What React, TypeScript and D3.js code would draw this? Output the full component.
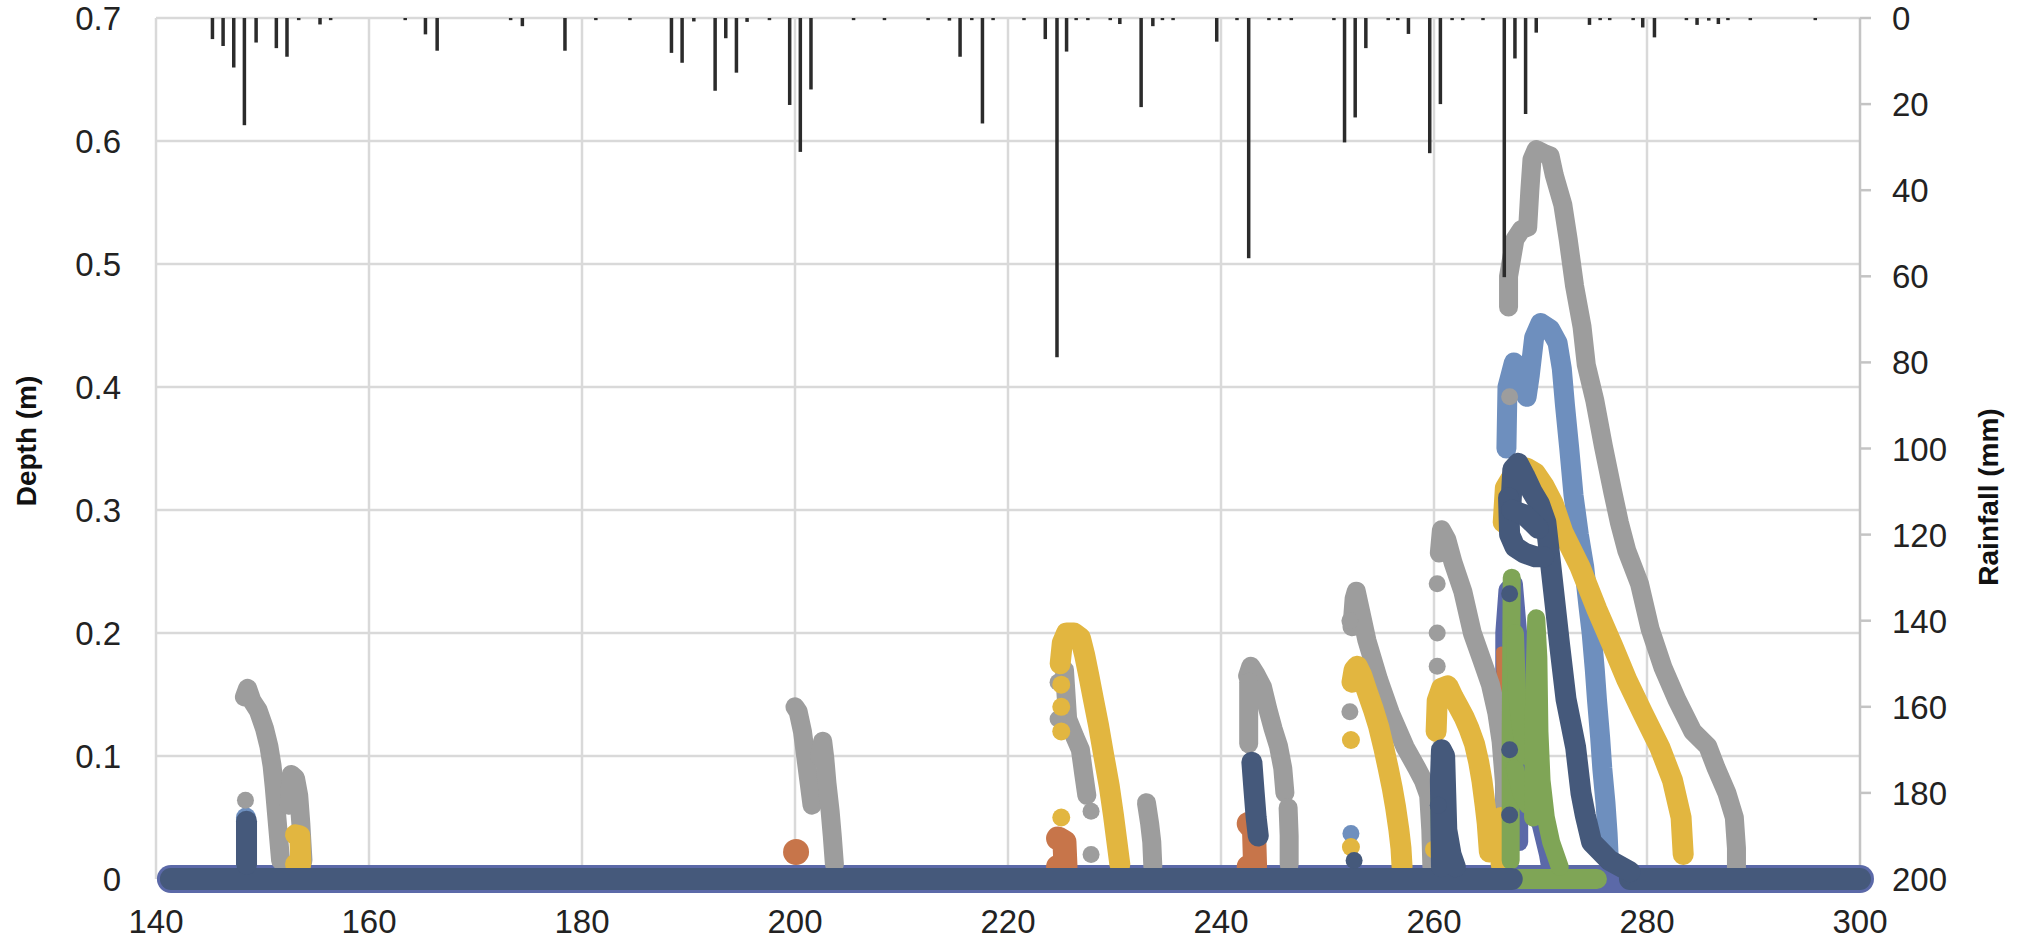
import React from 'react';
import * as d3 from 'd3';

type Pt = [number, number];

// rainfall (mm) per day, hanging from the top axis
const rainDays = [145.3, 146.3, 147.3, 148.3, 149.4, 151.3, 152.3, 153.4, 155.4, 156.4, 163.4, 165.3, 166.4, 173.3, 174.4, 178.4, 181.3, 184.5, 188.4, 189.4, 190.5, 192.5, 193.5, 194.5, 195.5, 197.6, 199.5, 200.5, 201.5, 205.5, 208.4, 212.5, 214.5, 215.5, 216.6, 217.6, 218.6, 221.5, 223.5, 224.6, 225.5, 226.4, 227.5, 229.6, 230.5, 232.5, 233.6, 234.5, 235.5, 239.6, 241.5, 242.6, 244.5, 245.5, 246.6, 250.6, 251.6, 252.6, 253.6, 255.7, 256.6, 257.6, 259.6, 260.6, 261.7, 262.7, 264.6, 266.6, 267.6, 268.6, 269.6, 274.6, 275.6, 276.5, 278.7, 279.6, 280.7, 283.7, 284.7, 285.8, 286.7, 287.6, 289.7, 295.8];
const rainMm = [4.9, 6.5, 11.5, 24.9, 5.7, 7.0, 9.0, 0.5, 1.5, 0.5, 0.5, 3.8, 7.6, 0.5, 1.9, 7.6, 0.5, 0.5, 8.1, 10.4, 0.8, 16.9, 4.7, 12.7, 0.9, 0.5, 20.2, 31.1, 16.6, 0.5, 0.5, 0.5, 0.6, 9.0, 0.5, 24.5, 0.5, 0.5, 4.9, 78.8, 7.8, 0.5, 0.5, 0.5, 1.4, 20.7, 1.9, 0.5, 0.5, 5.5, 0.5, 55.8, 0.5, 0.5, 0.5, 0.5, 28.9, 23.1, 7.0, 0.5, 0.5, 3.7, 31.4, 20.0, 0.5, 0.5, 0.5, 60.2, 9.4, 22.3, 3.4, 1.6, 0.5, 0.5, 0.5, 2.2, 4.5, 0.5, 1.6, 0.6, 1.4, 0.5, 0.5, 0.5];

const xTicks = [140, 160, 180, 200, 220, 240, 260, 280, 300];
const depthTicks = [0, 0.1, 0.2, 0.3, 0.4, 0.5, 0.6, 0.7];
const rainTicks = [0, 20, 40, 60, 80, 100, 120, 140, 160, 180, 200];

// depth series (day, m)
const purpleBase: Pt[] = [[141.4, 0], [300, 0]];
const purpleEvents: Pt[][] = [
  [[266.6, 0.04], [266.6, 0.2], [266.9, 0.235], [267.5, 0.24], [267.9, 0.2], [268.0, 0.1], [268.0, 0.03]],
  [[267.3, 0.03], [268.0, 0.055], [269.0, 0.058], [270.0, 0.045], [270.7, 0.02], [271.0, 0.005]],
];

const orangeBlobs: Pt[][] = [
  [[224.7, 0.033], [225.3, 0.03], [225.4, 0.01], [224.7, 0.01]],
  [[242.6, 0.045], [243.1, 0.04], [243.2, 0.01], [242.6, 0.01]],
];
const orangeStreak: Pt[] = [[266.3, 0.185], [266.4, 0.12], [266.5, 0.06], [266.6, 0.01]];
const orangeDots: Pt[] = [[200.1, 0.022]];

const lightBlueEvents: Pt[][] = [
  [[148.45, 0.05], [148.45, 0.012]],
  [[266.8, 0.35], [266.9, 0.4], [267.5, 0.42], [268.2, 0.415], [268.7, 0.392], [269.0, 0.41], [269.4, 0.44], [270.0, 0.452], [270.9, 0.447], [271.6, 0.436], [272.0, 0.415], [272.3, 0.385], [272.7, 0.35], [273.1, 0.312], [273.6, 0.28], [274.1, 0.254], [274.5, 0.222], [274.8, 0.2], [275.1, 0.17], [275.3, 0.146], [275.6, 0.115], [275.8, 0.09], [276.1, 0.062], [276.3, 0.037], [276.4, 0.018]],
];
const lightBlueDots: Pt[] = [[252.2, 0.037]];

const grayEvents: Pt[][] = [
  [[148.3, 0.148], [148.6, 0.155], [149.0, 0.145], [149.6, 0.137], [150.2, 0.122], [150.6, 0.108], [150.9, 0.092], [151.1, 0.075], [151.3, 0.055], [151.5, 0.035], [151.7, 0.015]],
  [[152.5, 0.06], [152.7, 0.085], [153.1, 0.082], [153.4, 0.068], [153.6, 0.045], [153.8, 0.015]],
  [[200.0, 0.14], [200.3, 0.136], [200.7, 0.12], [201.0, 0.1], [201.3, 0.08], [201.6, 0.06]],
  [[202.3, 0.1], [202.6, 0.112], [202.8, 0.098], [203.0, 0.078], [203.3, 0.055], [203.5, 0.035], [203.7, 0.012]],
  [[225.3, 0.17], [225.6, 0.13], [226.3, 0.115], [226.8, 0.105], [227.1, 0.086], [227.4, 0.068]],
  [[233.0, 0.062], [233.3, 0.045], [233.5, 0.03], [233.6, 0.01]],
  [[242.5, 0.165], [242.8, 0.173], [243.3, 0.166], [243.9, 0.156], [244.4, 0.138], [244.9, 0.122], [245.4, 0.108], [245.8, 0.09], [246.0, 0.07]],
  [[242.6, 0.16], [242.6, 0.11]],
  [[246.3, 0.058], [246.4, 0.035], [246.4, 0.012]],
  [[252.3, 0.205], [252.5, 0.228], [252.7, 0.234], [253.1, 0.218], [253.7, 0.194], [254.8, 0.162], [255.9, 0.135], [257.3, 0.107], [258.4, 0.09], [259.0, 0.08], [259.5, 0.068], [259.7, 0.04], [259.8, 0.01]],
  [[260.5, 0.265], [260.7, 0.284], [261.2, 0.276], [261.8, 0.257], [262.7, 0.234], [263.6, 0.2], [264.5, 0.178], [265.3, 0.158], [265.9, 0.135], [266.3, 0.112], [266.6, 0.08], [266.8, 0.045], [266.9, 0.015]],
  [[267.0, 0.465], [267.0, 0.49], [267.3, 0.505], [267.6, 0.52], [268.2, 0.528], [268.8, 0.53], [269.0, 0.56], [269.2, 0.585], [269.6, 0.593], [270.3, 0.59], [270.9, 0.588], [271.3, 0.572], [271.7, 0.56], [272.1, 0.548], [272.6, 0.52], [273.2, 0.482], [273.9, 0.449], [274.3, 0.418], [275.1, 0.389], [275.9, 0.352], [276.8, 0.314], [277.4, 0.29], [278.1, 0.267], [279.3, 0.24], [280.3, 0.203], [281.5, 0.172], [282.8, 0.146], [284.3, 0.12], [285.7, 0.108], [286.5, 0.09], [287.5, 0.07], [288.2, 0.05], [288.4, 0.025], [288.4, 0.008]],
];
const grayDots: Pt[] = [[148.4, 0.064], [224.7, 0.16], [224.7, 0.13], [227.8, 0.055], [227.8, 0.02], [252.1, 0.136], [252.1, 0.21], [260.3, 0.24], [260.3, 0.2], [260.3, 0.173], [260.2, 0.146], [267.1, 0.392]];

const goldEvents: Pt[][] = [
  [[153.1, 0.036], [153.5, 0.035], [153.6, 0.012], [153.1, 0.012]],
  [[224.9, 0.175], [225.1, 0.192], [225.5, 0.2], [226.2, 0.2], [226.8, 0.196], [227.2, 0.182], [227.6, 0.165], [228.0, 0.147], [228.5, 0.125], [229.0, 0.1], [229.5, 0.076], [229.9, 0.052], [230.2, 0.032], [230.5, 0.012]],
  [[252.3, 0.16], [252.5, 0.17], [252.8, 0.173], [253.2, 0.166], [253.7, 0.153], [254.3, 0.138], [254.8, 0.124], [255.3, 0.106], [255.7, 0.09], [256.1, 0.073], [256.4, 0.058], [256.7, 0.04], [256.9, 0.025], [257.0, 0.01]],
  [[260.2, 0.12], [260.3, 0.145], [260.7, 0.155], [261.3, 0.157], [261.8, 0.148], [262.3, 0.14], [262.8, 0.132], [263.3, 0.122], [263.8, 0.11], [264.2, 0.095], [264.5, 0.08], [264.8, 0.06], [265.0, 0.045], [265.2, 0.022]],
  [[266.3, 0.05], [266.3, 0.012]],
  [[266.5, 0.29], [266.7, 0.318], [267.4, 0.328], [268.7, 0.334], [269.5, 0.33], [270.3, 0.32], [271.2, 0.305], [272.1, 0.282], [273.7, 0.254], [275.3, 0.219], [276.8, 0.189], [278.1, 0.162], [279.6, 0.135], [281.2, 0.107], [282.4, 0.08], [283.2, 0.05], [283.4, 0.02]],
];
const goldDots: Pt[] = [[225.0, 0.158], [225.0, 0.14], [225.0, 0.12], [225.0, 0.05], [252.2, 0.113], [252.2, 0.026], [260.0, 0.024]];

const greenBase: Pt[] = [[268.0, 0], [275.3, 0]];
const greenEvents: Pt[][] = [
  [[260.5, 0.065], [260.6, 0.01]],
  [[267.2, 0.015], [267.2, 0.12], [267.3, 0.245]],
  [[267.6, 0.09], [268.2, 0.07], [268.8, 0.06]],
  [[267.6, 0.2], [267.8, 0.15], [268.2, 0.12], [268.6, 0.1], [268.9, 0.14]],
  [[269.3, 0.05], [269.4, 0.15], [269.6, 0.212], [269.8, 0.18], [269.9, 0.12], [270.1, 0.08], [270.5, 0.05], [271.0, 0.03], [271.8, 0.01]],
];

const navyBase: Pt[][] = [[[141.4, 0], [267.3, 0]], [[278.4, 0], [300, 0]]];
const navyEvents: Pt[][] = [
  [[148.5, 0.047], [148.5, 0.012]],
  [[242.9, 0.095], [243.1, 0.072], [243.3, 0.05], [243.5, 0.035]],
  [[260.7, 0.01], [260.6, 0.08], [260.7, 0.105], [261.0, 0.1], [261.1, 0.07], [261.2, 0.04], [261.6, 0.02], [262.0, 0.01]],
  [[267.2, 0.3], [267.4, 0.333], [267.9, 0.338], [268.5, 0.328], [269.2, 0.315], [269.9, 0.305], [270.5, 0.29], [270.9, 0.26], [271.8, 0.19], [272.4, 0.146], [273.3, 0.107], [273.8, 0.07], [274.2, 0.052], [274.8, 0.03], [276.5, 0.015], [278.4, 0.006]],
  [[267.0, 0.31], [267.1, 0.28], [267.6, 0.27], [268.5, 0.265], [269.5, 0.262], [270.3, 0.262]],
  [[267.3, 0.3], [268.5, 0.296], [269.8, 0.285]],
];
const navyDots: Pt[] = [[267.1, 0.232], [267.1, 0.105], [267.1, 0.052], [252.5, 0.015], [260.4, 0.06]];

const C = {
  purple: '#5b69a8',
  orange: '#c7754a',
  lightBlue: '#6e8fbe',
  gray: '#9d9d9d',
  gold: '#e2b640',
  green: '#7fa556',
  navy: '#45597b',
  grid: '#d9d9d9',
  text: '#222222',
};

const FONT = '"Liberation Sans", Arial, Helvetica, sans-serif';

const App = () => {
  const width = 2023;
  const height = 944;
  const left = 156, right = 1860, top = 18, bottom = 879;

  const x = d3.scaleLinear().domain([140, 300]).range([left, right]);
  const yD = d3.scaleLinear().domain([0, 0.7]).range([bottom, top]);
  const yR = d3.scaleLinear().domain([0, 200]).range([top, bottom]);

  const line = d3.line<Pt>().x(d => x(d[0])).y(d => yD(d[1]));

  const paths = (segs: Pt[][], color: string, w: number, key: string) =>
    segs.map((s, i) => (
      <path key={`${key}${i}`} d={line(s) || ''} fill="none" stroke={color} strokeWidth={w}
        strokeLinecap="round" strokeLinejoin="round" />
    ));
  const dots = (pts: Pt[], color: string, r: number, key: string) =>
    pts.map((p, i) => <circle key={`${key}${i}`} cx={x(p[0])} cy={yD(p[1])} r={r} fill={color} />);

  return (
    <>
      <style>{`body{margin:0}`}</style>
      <svg width={width} height={height} style={{ display: 'block', background: '#fff' }} fontFamily={FONT}>
        {/* grid */}
        {depthTicks.filter(t => t > 0).map(t => (
          <line key={`h${t}`} x1={left} x2={right} y1={yD(t)} y2={yD(t)} stroke={C.grid} strokeWidth={2.5} />
        ))}
        {xTicks.filter(t => t > 140 && t < 300).map(t => (
          <line key={`v${t}`} x1={x(t)} x2={x(t)} y1={top} y2={bottom} stroke={C.grid} strokeWidth={2.5} />
        ))}
        <line x1={left} x2={left} y1={top} y2={bottom} stroke={C.grid} strokeWidth={2.5} />
        <line x1={right} x2={right} y1={top} y2={bottom} stroke="#c4c4c4" strokeWidth={2.5} />
        {rainTicks.map(t => (
          <line key={`rt${t}`} x1={right} x2={right + 11} y1={yR(t)} y2={yR(t)} stroke="#c4c4c4" strokeWidth={2.5} />
        ))}

        {/* depth series */}
        {paths([purpleBase], C.purple, 28, 'pb')}
        {paths(purpleEvents, C.purple, 18, 'pe')}
        {paths(orangeBlobs, C.orange, 24, 'ob')}
        {paths([orangeStreak], C.orange, 10, 'os')}
        {dots(orangeDots, C.orange, 13, 'od')}
        {paths(lightBlueEvents, C.lightBlue, 20, 'le')}
        {dots(lightBlueDots, C.lightBlue, 8.5, 'ld')}
        {paths(grayEvents, C.gray, 19, 'ge')}
        {dots(grayDots, C.gray, 8.5, 'gd')}
        {paths(goldEvents, C.gold, 21, 'ye')}
        {dots(goldDots, C.gold, 9, 'yd')}
        {paths([greenBase], C.green, 20, 'nb')}
        {paths(greenEvents, C.green, 18, 'ne')}
        {paths(navyBase, C.navy, 22, 'vb')}
        {paths(navyEvents, C.navy, 21, 'ue')}
        {dots(navyDots, C.navy, 8.5, 'ud')}

        {/* rainfall bars */}
        {rainDays.map((d, i) => (
          <rect key={`r${i}`} x={x(d) - 1.75} y={yR(0)} width={3.5} height={yR(rainMm[i]) - yR(0)} fill="#2b2b2b" />
        ))}

        {/* tick labels */}
        {depthTicks.map(t => (
          <text key={`dl${t}`} x={121} y={yD(t) + 12} textAnchor="end" fontSize={33} fill={C.text}>
            {t === 0 ? '0' : t.toFixed(1)}
          </text>
        ))}
        {rainTicks.map(t => (
          <text key={`rl${t}`} x={1892} y={yR(t) + 12} textAnchor="start" fontSize={33} fill={C.text}>{t}</text>
        ))}
        {xTicks.map(t => (
          <text key={`xl${t}`} x={x(t)} y={933} textAnchor="middle" fontSize={33} fill={C.text}>{t}</text>
        ))}

        {/* axis titles */}
        <text transform={`translate(26,441) rotate(-90)`} textAnchor="middle" dominantBaseline="central"
          fontSize={28} fontWeight="bold" fill="#111">Depth (m)</text>
        <text transform={`translate(1988,497) rotate(-90)`} textAnchor="middle" dominantBaseline="central"
          fontSize={28} fontWeight="bold" fill="#111">Rainfall (mm)</text>
      </svg>
    </>
  );
};

export default App;
